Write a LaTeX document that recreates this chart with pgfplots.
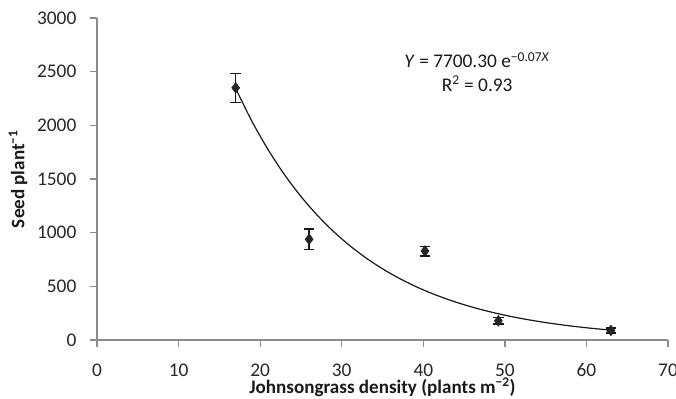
\documentclass[border=0pt]{standalone}
\usepackage{pgfplots}
\pgfplotsset{compat=1.18}
\usepackage{fontspec}
\setmainfont{Carlito}
\begin{document}
\begin{tikzpicture}
\begin{axis}[name=ax,
  scale only axis, width=428pt, height=241.5pt,
  xmin=0, xmax=70, ymin=0, ymax=3000,
  xtick={0,10,...,70}, ytick={0,500,...,3000},
  axis lines*=left,
  axis line style={draw=black!45, line width=1pt},
  tick style={draw=black!45, line width=1pt},
  tick align=outside, major tick length=5pt,
  tick label style={font=\fontsize{14.5}{16}\selectfont, text=black!85},
  xticklabel style={yshift=-9pt},
  yticklabel style={xshift=-7pt},
  /pgf/number format/assume math mode=true,
  /pgf/number format/1000 sep={},
  xlabel={\textbf{Johnsongrass density (plants m\textsuperscript{\textminus2})}},
  ylabel={\textbf{Seed plant\textsuperscript{\textminus1}}},
  label style={font=\fontsize{14.3}{16}\selectfont, text=black!90},
  xlabel style={at={([yshift=-35.5pt]axis description cs:0.5,0)}, anchor=center},
  ylabel style={at={([xshift=-59.25pt]axis description cs:0,0.5)}, anchor=center},
  clip=false,
]
\addplot[black!90, line width=0.9pt, smooth] coordinates {
(17,2342.6)(19,2036.6)(21,1770.5)(23,1539.2)(25,1338.1)(27,1163.3)(29,1011.3)
(31,879.2)(33,764.3)(35,664.5)(37,577.7)(39,502.2)(41,436.6)(43,379.6)
(45,330.0)(47,286.9)(49,249.4)(51,216.8)(53,188.5)(55,163.9)(57,142.5)
(59,123.8)(61,107.7)(63,93.6)};
\addplot[only marks, mark=diamond*, mark size=4pt,
  mark options={draw=black!90, fill=black!85},
  error bars/.cd, y dir=both, y explicit,
  error bar style={line width=1pt, black!90},
  error mark options={rotate=90, mark size=4pt, line width=1pt, black!90}]
 coordinates {
(17,2350) +- (0,135)
(26,940) +- (0,95)
(40.2,830) +- (0,45)
(49.2,180) +- (0,28)
(63,90) +- (0,22)
};
\node[align=center, font=\fontsize{14.5}{17.25}\selectfont, text=black!90] at (axis cs:46.6,2500)
 {\textit{Y} = 7700.30 e\textsuperscript{\textminus0.07\textit{X}}\\R\textsuperscript{2} = 0.93};
\end{axis}
\pgfresetboundingbox
\path[use as bounding box] ([xshift=-72.75pt,yshift=-43.5pt]ax.south west) rectangle ([xshift=6pt,yshift=13.5pt]ax.north east);
\end{tikzpicture}
\end{document}
